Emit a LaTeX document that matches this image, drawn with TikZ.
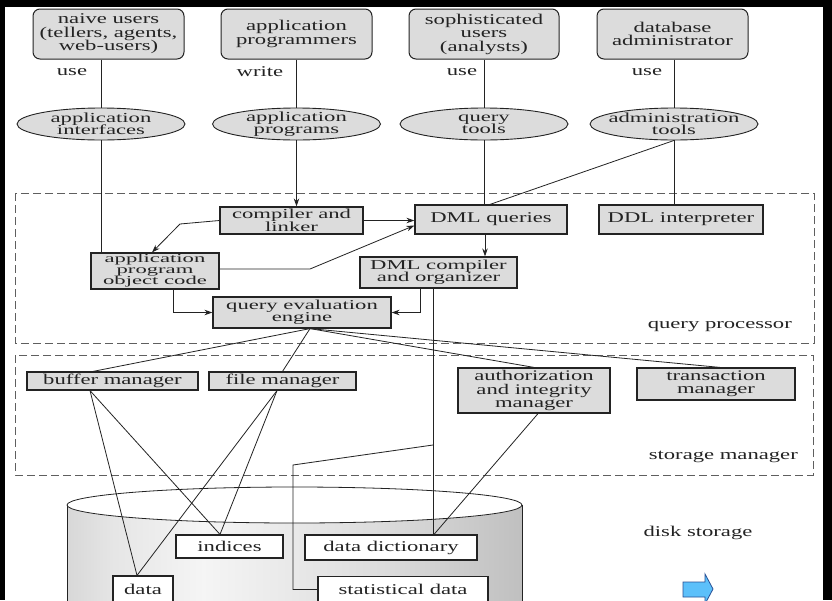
\documentclass[tikz,border=0pt]{standalone}
\usepackage{fontspec}
\setmainfont{Liberation Serif}
\usepackage{graphicx}
\usetikzlibrary{arrows.meta,shapes.geometric,calc}
\definecolor{boxfill}{RGB}{220,220,220}
\definecolor{edgec}{RGB}{35,35,35}
\definecolor{dashc}{RGB}{95,95,95}
\definecolor{arrfill}{RGB}{92,192,250}
\definecolor{arrline}{RGB}{40,80,150}
\pgfdeclarehorizontalshading{cyl}{100bp}{color(0bp)=(black!50);color(12bp)=(black!30);color(30bp)=(black!10);color(40bp)=(black!4);color(60bp)=(black!14);color(85bp)=(black!32);color(100bp)=(black!42)}
% #1 font size, #2 baselineskip, #3 lines
\newcommand\ttx[3]{\scalebox{\fpeval{round(22.65/#1,3)}}[1]{\fontsize{#1pt}{#2pt}\selectfont\vbox{\baselineskip=#2pt\lineskiplimit=-100pt\lineskip=0pt\halign{\hfil##\hfil\cr#3\crcr}}}}
\newcommand\tx[2][13.5]{\edef\mysz{\fpeval{round(min(15,#1/0.905),2)}}\ttx{\mysz}{#1}{#2}}
\tikzset{
 ubox/.style={draw=edgec, line width=1pt, fill=boxfill, rounded corners=7pt, inner sep=0pt},
 pbox/.style={draw=edgec, line width=1.2pt, fill=boxfill, inner sep=0pt},
 wbox/.style={draw=edgec, line width=1.2pt, fill=white, inner sep=0pt},
 oval/.style={draw=edgec, line width=0.9pt, fill=boxfill, ellipse, inner sep=0pt},
 conn/.style={draw=edgec, line width=0.8pt},
 arr/.style={conn, -{Stealth[length=8pt,width=5.5pt]}},
 frm/.style={draw=dashc, line width=0.9pt, dash pattern=on 8pt off 4pt},
 lbl/.style={inner sep=0pt, text=edgec},
 every node/.style={text=edgec}
}
\begin{document}
\begin{tikzpicture}[x=1pt,y=-1pt]
\useasboundingbox (0,0) rectangle (832,600);
\fill[black] (0,0) rectangle (832,600);
\fill[white] (5,7) rectangle (823,600);
\begin{scope}
\clip (5,7) rectangle (823,600);
% cylinder
\fill[shading=cyl] (67,505) rectangle (522,612);
\draw[edgec, line width=0.8pt] (67,505) -- (67,612);
\draw[edgec, line width=0.8pt] (522,505) -- (522,612);
\draw[edgec, line width=0.8pt, fill=white] (294.5,505) ellipse [x radius=227.5pt, y radius=18pt];

% top actors
\node[ubox, minimum width=151pt, minimum height=50pt] (nu) at (108.5,34) {\tx{naive users\cr(tellers, agents,\cr web-users)}};
\node[ubox, minimum width=151pt, minimum height=50pt] (apg) at (296.5,34) {\tx{application\cr programmers}};
\node[ubox, minimum width=150pt, minimum height=50pt] (su) at (484,34) {\tx{sophisticated\cr users\cr (analysts)}};
\node[ubox, minimum width=151pt, minimum height=50pt] (dba) at (672.5,34) {\tx{database\cr administrator}};

\node[lbl] (u1) at (72,72) {\tx{use}};
\node[lbl] (u2) at (260,72) {\tx{write}};
\node[lbl] (u3) at (462,72) {\tx{use}};
\node[lbl] (u4) at (647,72) {\tx{use}};

% ellipses
\node[oval, minimum width=168pt, minimum height=32pt] (ai) at (101,124) {};
\node[lbl] (ai-t) at (ai) {\tx[12.5]{application\cr interfaces}};
\node[oval, minimum width=168pt, minimum height=32pt] (apr) at (296.5,124) {};
\node[lbl] (apr-t) at (apr) {\tx[12.5]{application\cr programs}};
\node[oval, minimum width=168pt, minimum height=32pt] (qt) at (484,124) {};
\node[lbl] (qt-t) at (qt) {\tx[12.5]{query\cr tools}};
\node[oval, minimum width=168pt, minimum height=32pt] (at) at (674,124) {};
\node[lbl] (at-t) at (at) {\tx[12.5]{administration\cr tools}};

\draw[conn] (nu.south -| ai) -- (ai.north);
\draw[conn] (apg.south -| apr) -- (apr.north);
\draw[conn] (su.south -| qt) -- (qt.north);
\draw[conn] (dba.south -| at) -- (at.north);

% frames
\draw[frm] (15,193) rectangle (814,343);
\draw[frm] (15,355) rectangle (813,475);
\node[lbl, anchor=east] (qpl) at (792,327) {\tx{query processor}};
\node[lbl, anchor=east] (sml) at (798,457) {\tx{storage manager}};
\node[lbl] (dsl) at (698,533) {\tx{disk storage}};

% query processor
\node[pbox, minimum width=143pt, minimum height=27pt] (cl) at (291.5,220.5) {\tx[12.5]{compiler and\cr linker}};
\node[pbox, minimum width=152pt, minimum height=29pt] (dmlq) at (491,219.5) {\tx{DML queries}};
\node[pbox, minimum width=164pt, minimum height=29pt] (ddl) at (681,219.5) {\tx{DDL interpreter}};
\node[pbox, minimum width=128pt, minimum height=36pt] (apo) at (155,271) {\tx[11]{application\cr program\cr object code}};
\node[pbox, minimum width=157pt, minimum height=31pt] (dmlc) at (438.5,272.5) {\tx[12.3]{DML compiler\cr and organizer}};
\node[pbox, minimum width=178pt, minimum height=31pt] (qee) at (302,312.5) {\tx[12.3]{query evaluation\cr engine}};

% storage manager
\node[pbox, minimum width=171pt, minimum height=18pt] (bm) at (112.5,381) {\tx{buffer manager}};
\node[pbox, minimum width=147pt, minimum height=18pt] (fm) at (282.5,381) {\tx{file manager}};
\node[pbox, minimum width=152pt, minimum height=45pt] (aim) at (534,390.5) {\tx[13.3]{authorization\cr and integrity\cr manager}};
\node[pbox, minimum width=158pt, minimum height=32pt] (tm) at (716,384) {\tx[13.3]{transaction\cr manager}};

% disk
\node[wbox, minimum width=107pt, minimum height=23pt] (ind) at (229.5,546.5) {\tx{indices}};
\node[wbox, minimum width=172pt, minimum height=25pt] (dd) at (391,547.5) {\tx{data dictionary}};
\node[wbox, minimum width=60pt, minimum height=26pt] (data) at (143,589) {\tx{data}};
\node[wbox, minimum width=170pt, minimum height=26pt] (st) at (403,589.5) {\tx{statistical data}};

% connectors in query processor
\draw[conn] (ai.south) -- (ai.south |- apo.north);
\draw[arr] (apr.south) -- (apr.south |- cl.north);
\draw[conn] (qt.south) -- (qt.south |- dmlq.north);
\draw[conn] (at.south) -- (at.south |- ddl.north);
\draw[conn] (at.south) -- ([xshift=-1pt]dmlq.north);
\draw[arr] (cl.west) -- (180,224) -- ([xshift=-3pt]apo.north);
\draw[arr] (cl.east) -- (cl.east -| dmlq.west);
\draw[arr] ([yshift=2pt]apo.east) -- (310,269) -- ([yshift=-6pt]dmlq.west);
\draw[arr] ([xshift=-6pt]dmlq.south) -- ([xshift=-6pt]dmlq.south |- dmlc.north);
\draw[arr] ([xshift=-18.5pt]dmlc.south) |- (qee.east);
\draw[arr] ([xshift=18pt]apo.south) |- (qee.west);

% engine to storage manager
\coordinate (qeb) at ([xshift=8pt]qee.south);
\draw[conn] (qeb) -- ([xshift=-19.5pt]bm.north);
\draw[conn] (qeb) -- (fm.north);
\draw[conn] (qeb) -- (aim.north);
\draw[conn] (qeb) -- ([xshift=4pt]tm.north);

% storage manager to disk
\draw[conn] ([xshift=-22.5pt]bm.south) -- ([xshift=-6pt]data.north);
\draw[conn] ([xshift=-22.5pt]bm.south) -- ([xshift=-9.5pt]ind.north);
\draw[conn] ([xshift=-5.5pt]fm.south) -- ([xshift=-6pt]data.north);
\draw[conn] ([xshift=-5.5pt]fm.south) -- ([xshift=-9.5pt]ind.north);
\draw[conn] ([xshift=-5.5pt]dmlc.south) -- ([xshift=-5.5pt]dmlc.south |- dd.north);
\coordinate (br) at (433,445);
\coordinate (bk) at (293,465);
\draw[conn] (br) -- (bk) -- (bk |- st.west) -- (st.west);
\draw[conn] ([xshift=4pt]aim.south) -- ([xshift=43pt]dd.north);

% blue arrow
\draw[fill=arrfill, draw=arrline, line width=0.8pt] (683,582) -- (705,582) -- (705,574) -- (713,589) -- (705,604) -- (705,597) -- (683,597) -- cycle;
\end{scope}
\end{tikzpicture}
\end{document}
